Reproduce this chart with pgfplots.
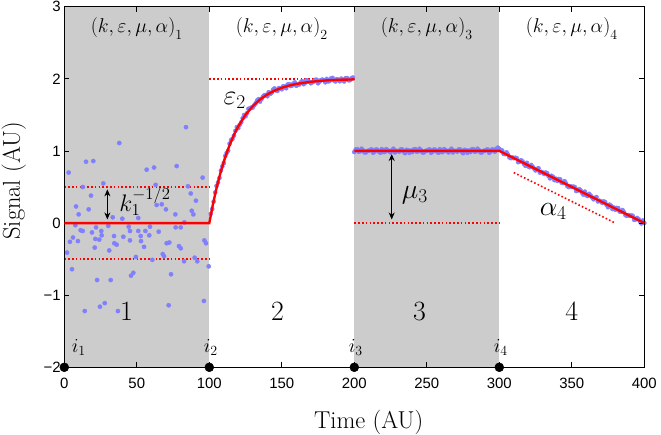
\documentclass[border=0pt]{standalone}
\usepackage{fix-cm}
\usepackage{fontspec}
\usepackage{pgfplots}
\pgfplotsset{compat=1.18}
\usetikzlibrary{arrows.meta}
\newfontfamily\tickfont{Liberation Sans}
\definecolor{ptblue}{RGB}{128,128,255}
\definecolor{shade}{RGB}{204,204,204}
\newcommand{\lsub}[1]{_{\raisebox{-4bp}{$\scriptstyle #1$}}}
\begin{document}
\begin{tikzpicture}
\begin{axis}[
 set layers,
 scale only axis, width=580bp, height=360.6bp,
 xmin=0, xmax=400, ymin=-2, ymax=3,
 xtick={0,50,...,400}, ytick={-2,-1,0,1,2,3},
 xticklabels={0,50,100,150,200,250,300,350,400},
 yticklabels={−2,−1,0,1,2,3},
 tick align=inside, major tick length=5bp,
 tick style={black, line width=0.7bp},
 axis line style={line width=0.8bp},
 tick label style={font=\tickfont\fontsize{15}{15}\selectfont},
 xticklabel style={yshift=-7bp},
 axis on top, clip=false,
 xlabel={Time (AU)}, ylabel={Signal (AU)},
 label style={font=\fontsize{24.5}{24.5}\selectfont},
 xlabel style={at={(axis description cs:0.5247,-0.1517)}, anchor=center},
 ylabel style={at={(axis description cs:-0.087,0.517)}, anchor=center},
]
% shaded regions
\addplot[fill=shade, draw=none] coordinates {(0,-2)(0,3)(100,3)(100,-2)} -- cycle;
\addplot[fill=shade, draw=none] coordinates {(200,-2)(200,3)(300,3)(300,-2)} -- cycle;

% scatter data
\addplot[only marks, mark=*, mark size=2.1bp, color=ptblue, mark options={draw=none, fill=ptblue}] coordinates {
(83.9,1.33)(37.9,1.11)(15.0,0.85)(20.0,0.86)(77.5,0.79)(56.8,0.74)(61.9,0.77)(3.0,0.70)
(95.4,0.63)(26.9,0.55)(12.7,0.50)(63.0,0.53)(85.3,0.51)(18.4,0.38)(87.2,0.41)(90.8,0.31)
(8.1,0.23)(16.8,0.19)(63.7,0.25)(67.2,0.26)(70.1,0.19)(87.9,0.17)(89.0,0.12)(9.9,0.12)
(76.6,0.12)(33.4,0.08)(40.0,0.06)(51.0,0.07)(7.6,-0.03)(21.9,-0.06)(30.3,-0.04)(44.4,-0.05)
(59.1,-0.05)(76.8,-0.06)(80.3,-0.06)(82.8,0.01)(11.3,-0.10)(12.7,-0.11)(19.1,-0.13)(25.5,-0.11)
(45.3,-0.11)(51.0,-0.11)(55.9,-0.11)(65.1,-0.12)(6.0,-0.20)(25.8,-0.17)(34.3,-0.18)(40.7,-0.19)
(52.7,-0.18)(58.6,-0.17)(3.9,-0.26)(9.4,-0.25)(21.4,-0.22)(24.1,-0.23)(34.5,-0.28)(36.1,-0.30)
(45.3,-0.24)(52.9,-0.25)(70.6,-0.28)(72.4,-0.27)(96.6,-0.24)(97.7,-0.28)(21.0,-0.34)(31.0,-0.38)
(55.0,-0.33)(79.1,-0.32)(80.3,-0.35)(1.9,-0.41)(67.9,-0.43)(68.8,-0.46)(89.9,-0.48)(91.7,-0.53)
(49.4,-0.47)(60.7,-0.51)(82.6,-0.53)(99.6,-0.60)(5.3,-0.64)(47.6,-0.69)(46.0,-0.73)(73.6,-0.71)
(22.6,-0.79)(32.0,-0.79)(96.3,-1.08)(27.9,-1.11)(24.6,-1.16)(14.1,-1.22)(37.0,-1.22)(72.0,-1.14)
(101,0.128)(103,0.297)(105,0.515)(107,0.624)(109,0.787)(111,0.930)(113,1.004)(115,1.151)
(117,1.212)(119,1.329)(121,1.362)(123,1.453)(125,1.481)(127,1.584)(129,1.601)(131,1.633)
(133,1.700)(135,1.684)(137,1.754)(139,1.776)(141,1.815)(143,1.807)(145,1.866)(147,1.833)
(149,1.869)(151,1.897)(153,1.870)(155,1.926)(157,1.906)(159,1.950)(161,1.918)(163,1.950)
(165,1.926)(167,1.982)(169,1.957)(171,1.951)(173,1.985)(175,1.939)(177,1.982)(179,1.980)
(181,1.998)(183,1.970)(185,2.012)(187,1.964)(189,1.986)(191,2.002)(193,1.964)(195,2.010)
(197,1.981)(199,2.017)
(102,0.195)(104,0.424)(106,0.562)(108,0.728)(110,0.832)(112,0.973)(114,1.101)(116,1.168)
(118,1.279)(120,1.317)(122,1.396)(124,1.498)(126,1.523)(128,1.588)(130,1.602)(132,1.662)
(134,1.718)(136,1.719)(138,1.773)(140,1.758)(142,1.791)(144,1.851)(146,1.840)(148,1.871)
(150,1.856)(152,1.889)(154,1.920)(156,1.901)(158,1.935)(160,1.904)(162,1.921)(164,1.968)
(166,1.944)(168,1.964)(170,1.939)(172,1.963)(174,1.987)(176,1.961)(178,1.989)(180,1.952)
(182,1.964)(184,2.006)(186,1.978)(188,1.995)(190,1.967)(192,1.988)(194,2.009)(196,1.980)
(198,2.006)
(201,1.02)(203,0.99)(205,1.03)(207,0.98)(209,1.00)(211,1.015)(213,0.975)(215,1.02)
(217,0.99)(219,1.025)(221,0.985)(223,1.01)(225,0.98)(227,1.03)(229,1.00)(231,0.99)
(233,1.02)(235,0.97)(237,1.01)(239,1.005)(241,1.02)(243,0.99)(245,1.03)(247,0.98)
(249,1.00)(251,1.015)(253,0.975)(255,1.02)(257,0.99)(259,1.025)(261,0.985)(263,1.01)
(265,0.98)(267,1.03)(269,1.00)(271,0.99)(273,1.02)(275,0.97)(277,1.01)(279,1.005)
(281,1.02)(283,0.99)(285,1.03)(287,0.98)(289,1.00)(291,1.015)(293,0.975)(295,1.02)
(297,0.99)(299,1.045)
(200,0.985)(202,1.025)(204,0.995)(206,1.01)(208,0.98)(210,1.00)(212,1.02)(214,0.99)
(216,1.015)(218,0.975)(220,0.985)(222,1.025)(224,0.995)(226,1.01)(228,0.98)(230,1.00)
(232,1.02)(234,0.99)(236,1.015)(238,0.975)(240,0.985)(242,1.025)(244,0.995)(246,1.01)
(248,0.98)(250,1.00)(252,1.02)(254,0.99)(256,1.015)(258,0.975)(260,0.985)(262,1.025)
(264,0.995)(266,1.01)(268,0.98)(270,1.00)(272,1.02)(274,0.99)(276,1.015)(278,0.975)
(280,0.985)(282,1.025)(284,0.995)(286,1.01)(288,0.98)(290,1.00)(292,1.02)(294,0.99)
(296,1.015)(298,1.03)
(301,1.01)(303,0.96)(305,0.98)(307,0.91)(309,0.91)(311,0.905)(313,0.845)(315,0.87)
(317,0.82)(319,0.835)(321,0.775)(323,0.78)(325,0.73)(327,0.76)(329,0.71)(331,0.68)
(333,0.69)(335,0.62)(337,0.64)(339,0.615)(341,0.61)(343,0.56)(345,0.58)(347,0.51)
(349,0.51)(351,0.505)(353,0.445)(355,0.47)(357,0.42)(359,0.435)(361,0.375)(363,0.38)
(365,0.33)(367,0.36)(369,0.31)(371,0.28)(373,0.29)(375,0.22)(377,0.24)(379,0.215)
(381,0.21)(383,0.16)(385,0.18)(387,0.11)(389,0.11)(391,0.105)(393,0.045)(395,0.07)
(397,0.02)(399,0.035)
(300,1.03)(302,1.005)(304,0.955)(306,0.95)(308,0.90)(310,0.90)(312,0.90)(314,0.85)
(316,0.855)(318,0.795)(320,0.785)(322,0.805)(324,0.755)(326,0.75)(328,0.70)(330,0.70)
(332,0.70)(334,0.65)(336,0.655)(338,0.595)(340,0.585)(342,0.605)(344,0.555)(346,0.55)
(348,0.50)(350,0.50)(352,0.50)(354,0.45)(356,0.455)(358,0.395)(360,0.385)(362,0.405)
(364,0.355)(366,0.35)(368,0.30)(370,0.30)(372,0.30)(374,0.25)(376,0.255)(378,0.195)
(380,0.185)(382,0.205)(384,0.155)(386,0.15)(388,0.10)(390,0.10)(392,0.10)(394,0.05)
(396,0.055)(398,-0.005)(400,0.00)
};

% dotted reference lines
\addplot[red, line width=1.6bp, dash pattern=on 1.6bp off 2.2bp] coordinates {(0,0.5)(100,0.5)};
\addplot[red, line width=1.6bp, dash pattern=on 1.6bp off 2.2bp] coordinates {(0,-0.5)(100,-0.5)};
\addplot[red, line width=1.6bp, dash pattern=on 1.6bp off 2.2bp] coordinates {(100,2)(200,2)};
\addplot[red, line width=1.6bp, dash pattern=on 1.6bp off 2.2bp] coordinates {(200,0)(300,0)};
\addplot[red, line width=1.6bp, dash pattern=on 1.6bp off 2.2bp] coordinates {(310,0.70)(380,0.0)};

% fitted red lines (on top of the markers)
\addplot[red, line width=2.4bp, on layer=axis foreground] coordinates {
(0,0)(100,0)(102.5,0.259)(105,0.485)(107.5,0.682)(110,0.852)(112.5,1.001)(115,1.131)(117.5,1.244)
(120,1.342)(125,1.501)(130,1.622)(135,1.714)(140,1.783)(145,1.836)(150,1.876)(155,1.906)
(160,1.929)(170,1.959)(180,1.977)(190,1.987)(200,1.992)};
\addplot[red, line width=2.4bp, on layer=axis foreground] coordinates {(200,1)(300,1)(400,0)};

% arrows
\addplot[black, line width=0.8bp, {Stealth[length=7bp,width=6bp]}-{Stealth[length=7bp,width=6bp]}] coordinates {(29.7,0.467)(29.7,0.05)};
\addplot[black, line width=0.8bp, {Stealth[length=7bp,width=6bp]}-{Stealth[length=7bp,width=6bp]}] coordinates {(225.8,0.957)(225.8,0.05)};

% change points
\addplot[only marks, mark=*, mark size=4.5bp, black, on layer=axis foreground] coordinates {(0,-2)(100,-2)(200,-2)(300,-2)};

% text
\node[font=\fontsize{20}{20}\selectfont] at (50,2.7) {$(k,\varepsilon,\mu,\alpha)\lsub{1}$};
\node[font=\fontsize{20}{20}\selectfont] at (150,2.7) {$(k,\varepsilon,\mu,\alpha)\lsub{2}$};
\node[font=\fontsize{20}{20}\selectfont] at (250,2.7) {$(k,\varepsilon,\mu,\alpha)\lsub{3}$};
\node[font=\fontsize{20}{20}\selectfont] at (350,2.7) {$(k,\varepsilon,\mu,\alpha)\lsub{4}$};
\node[font=\fontsize{28}{28}\selectfont] at (43,-1.22) {1};
\node[font=\fontsize{28}{28}\selectfont] at (147,-1.22) {2};
\node[font=\fontsize{28}{28}\selectfont] at (245,-1.22) {3};
\node[font=\fontsize{28}{28}\selectfont] at (350,-1.22) {4};
\node[font=\fontsize{20}{20}\selectfont] at (10,-1.73) {$i_1$};
\node[font=\fontsize{20}{20}\selectfont] at (101,-1.73) {$i_2$};
\node[font=\fontsize{20}{20}\selectfont] at (201,-1.73) {$i_3$};
\node[font=\fontsize{20}{20}\selectfont] at (301,-1.73) {$i_4$};
\node[font=\fontsize{24}{24}\selectfont, anchor=base west, inner sep=0pt] at (37.9,0.16) {$k_1^{-1/2}$};
\node[font=\fontsize{28}{28}\selectfont, anchor=base west, inner sep=0pt] at (109.7,1.65) {$\varepsilon_2$};
\node[font=\fontsize{28}{28}\selectfont, anchor=base west, inner sep=0pt] at (232.7,0.34) {$\mu_3$};
\node[font=\fontsize{28}{28}\selectfont, anchor=base west, inner sep=0pt] at (327.8,0.11) {$\alpha_4$};
\end{axis}
\pgfresetboundingbox
\path[use as bounding box] ([shift={(-64.3bp,-67.7bp)}]current axis.south west) rectangle ([shift={(16.7bp,6.7bp)}]current axis.north east);
\end{tikzpicture}
\end{document}
